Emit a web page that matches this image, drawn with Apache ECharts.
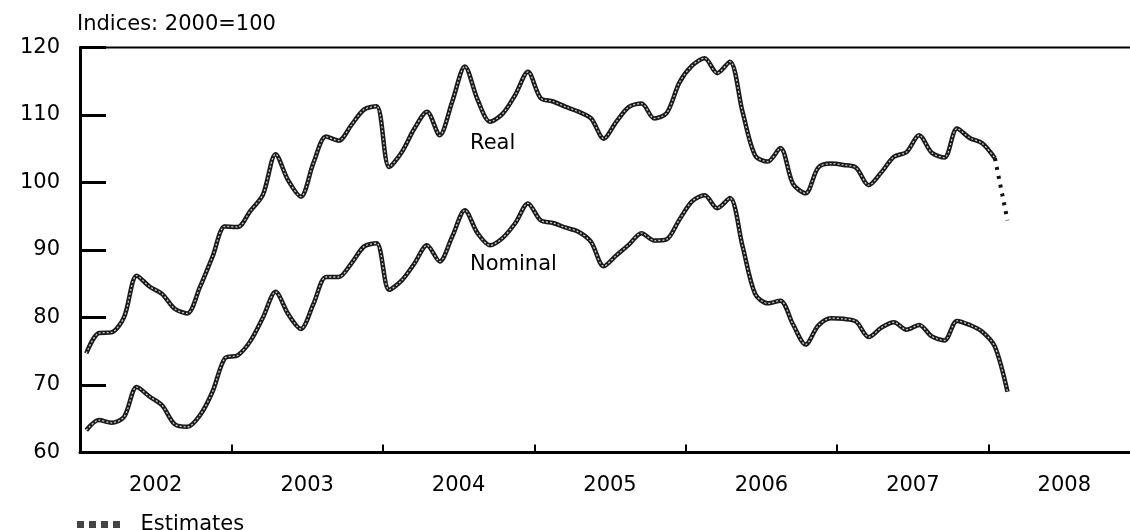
<!DOCTYPE html>
<html>
<head>
<meta charset="utf-8">
<script src="https://cdn.jsdelivr.net/npm/echarts@6/dist/echarts.min.js"></script>
<style>
html,body{margin:0;padding:0;background:#fff;}
#chart{width:1130px;height:530px;}
</style>
</head>
<body>
<div id="chart"></div>
<script>
// ---- data ----
const years = ['2002','2003','2004','2005','2006','2007','2008'];
const monthNames = ['Jan','Feb','Mar','Apr','May','Jun','Jul','Aug','Sep','Oct','Nov','Dec'];
// Monthly indices (2000=100), Jan 2002 onwards
const realValues = [
  74.7, 77.7, 77.8, 80.1, 86.2, 84.6, 83.5, 81.3, 80.6, 84.5, 89.0, 93.5,
  93.4, 95.8, 98.2, 104.2, 100.3, 97.9, 102.9, 106.8, 106.2, 108.5, 110.8, 111.3,
  102.3, 104.5, 108.0, 110.5, 107.0, 112.0, 117.2, 112.3, 109.0, 110.2, 113.0, 116.4,
  112.5, 112.0, 111.2, 110.5, 109.5, 106.5, 109.0, 111.2, 111.7, 109.5, 110.3, 114.8,
  117.3, 118.4, 116.2, 117.9, 110.5, 104.0, 103.1, 105.1, 99.8, 98.4, 102.2, 102.8,
  102.6, 102.2, 99.6, 101.5, 103.8, 104.5, 107.0, 104.4, 103.7, 108.0, 106.6, 105.8,
  103.6
];
const nominalValues = [
  63.3, 64.8, 64.4, 65.3, 69.7, 68.3, 67.0, 64.2, 63.8, 65.5, 69.0, 74.0,
  74.4, 76.5, 80.0, 83.8, 80.5, 78.3, 82.0, 86.0, 86.0, 88.0, 90.5, 91.0,
  84.1, 85.5, 88.0, 90.7, 88.3, 92.0, 95.9, 92.5, 90.7, 91.8, 94.0, 96.9,
  94.4, 94.0, 93.3, 92.7, 91.2, 87.6, 89.2, 90.8, 92.5, 91.4, 91.6, 94.5,
  97.2, 98.1, 96.2, 97.7, 90.6, 83.5, 82.1, 82.5, 79.0, 76.0, 78.8, 79.9,
  79.8, 79.4, 77.1, 78.5, 79.3, 78.2, 78.9, 77.2, 76.6, 79.5, 78.9, 77.9,
  75.7, 69.0
];
const estimateMonths = ['Jan 2008', 'Feb 2008'];
const estimateValues = [103.6, 94.4];
const yTicks = [60, 70, 80, 90, 100, 110, 120];

// ---- build ----
const months = [];
years.forEach(y => monthNames.forEach(m => months.push(m + ' ' + y)));
const estimateData = estimateMonths.map((m, i) => [m, estimateValues[i]]);

const FONT = 'DejaVu Sans';
const chart = echarts.init(document.getElementById('chart'), null, {renderer: 'canvas'});

const lineBase = (name, data) => ({
  name: name, type: 'line', data: data, xAxisIndex: 0, yAxisIndex: 0,
  smooth: 0.3, symbol: 'none', z: 3,
  lineStyle: {color: '#1a1a1a', width: 4.5}
});
const lineTexture = (name, data) => ({
  name: name + ' texture', type: 'line', data: data, xAxisIndex: 0, yAxisIndex: 0,
  smooth: 0.3, symbol: 'none', silent: true, z: 4,
  lineStyle: {color: '#c8c8c8', width: 1.3, type: [2, 2]}
});

chart.setOption({
  animation: false,
  backgroundColor: '#fff',
  grid: {
    left: 80, top: 47.5, width: 1060, height: 405,
    show: true, borderColor: '#000', borderWidth: 2,
    containLabel: false, outerBoundsMode: 'none'
  },
  xAxis: [
    {
      type: 'category', data: months, boundaryGap: true, position: 'bottom',
      axisLine: {show: true, lineStyle: {color: '#000', width: 3}},
      axisTick: {show: true, inside: true, length: 8, lineStyle: {color: '#000', width: 2},
                 interval: function (i) { return i % 12 === 0; }},
      axisLabel: {show: false},
      splitLine: {show: false}
    },
    {
      type: 'category', data: years, boundaryGap: true, position: 'bottom', gridIndex: 0,
      axisLine: {show: false}, axisTick: {show: false},
      axisLabel: {margin: 23, fontSize: 21, color: '#000', fontFamily: FONT},
      splitLine: {show: false}
    }
  ],
  yAxis: {
    type: 'value', min: yTicks[0], max: yTicks[yTicks.length - 1], interval: 10,
    axisLine: {show: true, lineStyle: {color: '#000', width: 3}},
    axisTick: {show: true, inside: true, length: 26, lineStyle: {color: '#000', width: 3}},
    axisLabel: {margin: 20, fontSize: 21, color: '#000', fontFamily: FONT},
    splitLine: {show: false}
  },
  legend: {
    data: ['Estimates'], left: 72, top: 509,
    icon: 'path://M0,0h7v7h-7z M12,0h7v7h-7z M24,0h7v7h-7z M36,0h7v7h-7z',
    itemWidth: 50, itemHeight: 7,
    itemStyle: {color: '#444', borderWidth: 0},
    textStyle: {fontSize: 21, color: '#000', fontFamily: FONT, padding: [0, 0, 0, 12]},
    selectedMode: false
  },
  graphic: [
    {type: 'text', left: 77, top: 14, style: {text: 'Indices: 2000=100', font: '21px "DejaVu Sans"', fill: '#000'}},
    {type: 'text', left: 470, top: 133, style: {text: 'Real', font: '21px "DejaVu Sans"', fill: '#000'}},
    {type: 'text', left: 470, top: 254, style: {text: 'Nominal', font: '21px "DejaVu Sans"', fill: '#000'}}
  ],
  series: [
    lineBase('Real', realValues),
    lineTexture('Real', realValues),
    lineBase('Nominal', nominalValues),
    lineTexture('Nominal', nominalValues),
    {
      name: 'Estimates', type: 'line', data: estimateData, xAxisIndex: 0, yAxisIndex: 0,
      symbol: 'none', z: 3,
      itemStyle: {color: '#444'},
      lineStyle: {color: '#111', width: 4, type: [3, 6]}
    }
  ]
});
</script>
</body>
</html>
